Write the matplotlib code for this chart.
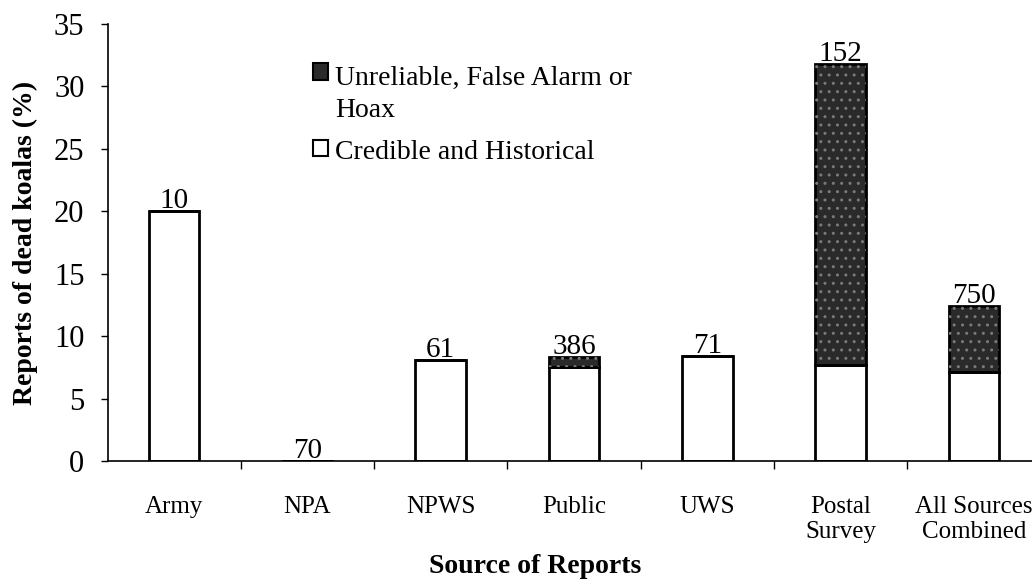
"""
Reports of dead koalas by source: credible vs unreliable (stacked bars).
"""
import matplotlib
matplotlib.use("Agg")
import matplotlib.pyplot as plt
import numpy as np
from matplotlib.patches import Rectangle

# --- data ---
sources     = ["Army", "NPA", "NPWS", "Public", "UWS", "Postal\nSurvey", "All Sources\nCombined"]
credible    = [20.0, 0.0, 8.1, 7.5, 8.4, 7.7, 7.1]
unreliable  = [0.0, 0.0, 0.0, 0.8, 0.0, 24.1, 5.3]
n_reports   = ["10", "70", "61", "386", "71", "152", "750"]
y_ticks     = [0, 5, 10, 15, 20, 25, 30, 35]
legend_txt  = ["Unreliable, False Alarm or", "Hoax", "Credible and Historical"]

DARK = "#2a2a2a"
plt.rcParams["font.family"] = ["Liberation Serif", "DejaVu Serif"]

fig = plt.figure(figsize=(10.32, 5.83), dpi=100)
ax = fig.add_axes([0.1047, 0.2093, 0.8953, 0.7496])

x = np.arange(len(sources))
w = 0.38
ax.bar(x, credible, width=w, color="white", edgecolor="black", lw=2, zorder=2)
ax.bar(x, unreliable, width=w, bottom=credible, color=DARK,
       edgecolor="black", lw=2, zorder=2)
# speckle on the dark part
ax.bar(x, unreliable, width=w, bottom=credible, color="none",
       edgecolor="#7a7a7a", lw=0, hatch="..", zorder=3)

totals = np.array(credible) + np.array(unreliable)
for xi, t, lab in zip(x, totals, n_reports):
    ax.text(xi, t + 0.25, lab, ha="center", va="baseline", fontsize=21)

ax.set_xlim(-0.495, 6.435)
ax.set_ylim(0, 35)
ax.set_yticks(y_ticks)
ax.tick_params(axis="y", labelsize=22, length=5, width=1, direction="out", pad=12)

# ticks between categories, labels under category centres
ax.set_xticks(x[:-1] + 0.5)
ax.set_xticklabels([])
ax.tick_params(axis="x", which="major", length=6, width=1, direction="out")
ax.set_xticks(x, minor=True)
ax.set_xticklabels(sources, minor=True, fontsize=18, linespacing=1.2)
ax.tick_params(axis="x", which="minor", length=0, pad=25)

for s in ["top", "right"]:
    ax.spines[s].set_visible(False)
ax.spines["left"].set_linewidth(1.2)
ax.spines["bottom"].set_linewidth(1.2)

ax.set_ylabel("Reports of dead koalas (%)", fontsize=20, fontweight="bold")
ax.yaxis.set_label_coords(-0.076, 0.5)
ax.set_xlabel("Source of Reports", fontsize=20, fontweight="bold")
ax.xaxis.set_label_coords(0.462, -0.213)

# legend drawn by hand so the dark key sits on the first text line
tr = ax.transAxes
ax.add_patch(Rectangle((0.222, 0.872), 0.0165, 0.039, transform=tr,
                       facecolor=DARK, edgecolor="black", lw=1.5, clip_on=False))
ax.add_patch(Rectangle((0.222, 0.698), 0.0165, 0.037, transform=tr,
                       facecolor="white", edgecolor="black", lw=1.5, clip_on=False))
for ty, txt in zip([0.876, 0.803, 0.705], legend_txt):
    ax.text(0.2457, ty, txt, transform=tr, ha="left", va="center", fontsize=20)

fig.savefig("out.png", dpi=100)
